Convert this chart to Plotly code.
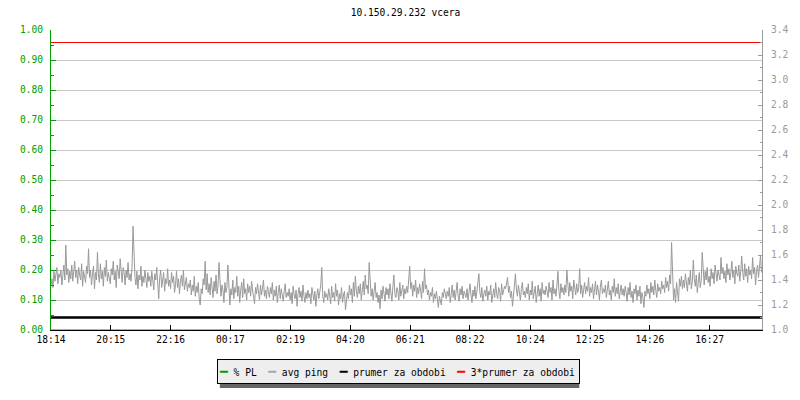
import numpy as np
import plotly.graph_objects as go

# ---- data ----
tick_minutes = [0, 121, 242, 363, 485, 606, 727, 848, 970, 1091, 1212, 1333]
tick_labels = ["18:14", "20:15", "22:16", "00:17", "02:19", "04:20",
               "06:21", "08:22", "10:24", "12:25", "14:26", "16:27"]
range_minutes = 1439
sample_step = 2  # minutes between avg ping samples

avg_ping = [
    1.36,1.41,1.34,1.47,1.39,1.44,1.50,1.37,1.45,1.42,1.48,1.36,1.46,1.52,1.40,1.68,1.44,1.49,1.38,1.47,
    1.41,1.52,1.39,1.46,1.55,1.42,1.48,1.37,1.50,1.44,1.40,1.53,1.35,1.47,1.43,1.38,1.51,1.45,1.65,1.42,
    1.48,1.36,1.45,1.51,1.33,1.46,1.40,1.62,1.44,1.38,1.53,1.41,1.47,1.35,1.50,1.43,1.56,1.39,1.46,1.42,
    1.37,1.49,1.44,1.55,1.40,1.47,1.34,1.52,1.45,1.41,1.57,1.43,1.38,1.50,1.46,1.36,1.48,1.42,1.54,1.40,
    1.45,1.39,1.50,1.83,1.56,1.42,1.36,1.47,1.33,1.44,1.40,1.51,1.35,1.43,1.38,1.48,1.41,1.34,1.46,1.39,
    1.43,1.35,1.47,1.38,1.32,1.45,1.40,1.50,1.36,1.25,1.42,1.48,1.34,1.39,1.46,1.31,1.41,1.37,1.49,1.35,
    1.40,1.33,1.46,1.38,1.43,1.30,1.36,1.47,1.34,1.41,1.29,1.39,1.44,1.35,1.48,1.32,1.38,1.42,1.31,1.37,
    1.34,1.40,1.28,1.36,1.31,1.43,1.27,1.35,1.30,1.38,1.25,1.20,1.33,1.29,1.41,1.36,1.55,1.32,1.45,1.30,
    1.37,1.28,1.42,1.33,1.26,1.39,1.31,1.44,1.29,1.35,1.54,1.40,1.27,1.36,1.32,1.22,1.38,1.30,1.34,1.52,
    1.36,1.20,1.33,1.28,1.40,1.25,1.34,1.30,1.43,1.27,1.35,1.22,1.32,1.38,1.26,1.41,1.29,1.33,1.24,1.37,
    1.30,1.35,1.27,1.39,1.32,1.26,1.21,1.34,1.29,1.37,1.31,1.24,1.36,1.28,1.33,1.40,1.27,1.32,1.25,1.35,
    1.31,1.26,1.34,1.29,1.38,1.24,1.32,1.27,1.35,1.22,1.30,1.36,1.25,1.33,1.28,1.23,1.31,1.37,1.26,1.30,
    1.27,1.33,1.24,1.30,1.21,1.35,1.28,1.25,1.32,1.19,1.29,1.34,1.26,1.31,1.23,1.36,1.27,1.22,1.30,1.25,
    1.32,1.26,1.29,1.21,1.34,1.27,1.24,1.31,1.19,1.28,1.33,1.25,1.30,1.36,1.50,1.27,1.22,1.31,1.26,1.29,
    1.24,1.33,1.28,1.21,1.35,1.26,1.30,1.23,1.37,1.27,1.32,1.20,1.29,1.25,1.34,1.22,1.28,1.31,1.16,1.26,
    1.30,1.25,1.36,1.28,1.33,1.22,1.38,1.27,1.43,1.31,1.26,1.35,1.29,1.37,1.24,1.32,1.39,1.28,1.44,1.33,
    1.36,1.29,1.54,1.40,1.27,1.33,1.24,1.31,1.38,1.26,1.30,1.22,1.28,1.17,1.32,1.25,1.35,1.29,1.23,1.34,
    1.28,1.33,1.25,1.37,1.30,1.23,1.35,1.44,1.29,1.26,1.34,1.31,1.24,1.38,1.27,1.32,1.36,1.25,1.33,1.29,
    1.35,1.30,1.41,1.51,1.33,1.38,1.27,1.36,1.31,1.40,1.26,1.34,1.29,1.37,1.32,1.25,1.39,1.30,1.49,1.33,
    1.36,1.28,1.32,1.24,1.30,1.27,1.34,1.22,1.29,1.25,1.31,1.23,1.18,1.27,1.24,1.20,1.30,1.26,1.33,1.28,
    1.25,1.31,1.27,1.34,1.22,1.29,1.36,1.26,1.32,1.24,1.30,1.38,1.27,1.23,1.33,1.28,1.35,1.25,1.31,1.29,
    1.26,1.33,1.24,1.30,1.37,1.28,1.22,1.32,1.27,1.35,1.25,1.31,1.39,1.45,1.30,1.26,1.34,1.23,1.29,1.32,
    1.27,1.35,1.24,1.31,1.28,1.36,1.22,1.30,1.33,1.26,1.38,1.29,1.25,1.34,1.31,1.23,1.37,1.28,1.32,1.35,
    1.33,1.37,1.42,1.30,1.35,1.26,1.31,1.19,1.28,1.34,1.45,1.32,1.27,1.36,1.29,1.24,1.33,1.38,1.28,1.31,
    1.26,1.34,1.29,1.37,1.24,1.32,1.28,1.39,1.25,1.31,1.35,1.22,1.30,1.36,1.27,1.33,1.23,1.38,1.29,1.32,
    1.28,1.35,1.31,1.26,1.38,1.30,1.34,1.24,1.40,1.29,1.33,1.27,1.36,1.47,1.31,1.25,1.37,1.30,1.34,1.28,
    1.36,1.30,1.48,1.33,1.27,1.38,1.31,1.35,1.25,1.40,1.32,1.28,1.37,1.30,1.34,1.49,1.29,1.36,1.26,1.33,
    1.38,1.29,1.35,1.31,1.42,1.27,1.34,1.30,1.37,1.25,1.33,1.39,1.28,1.36,1.31,1.24,1.35,1.40,1.29,1.33,
    1.30,1.36,1.26,1.33,1.39,1.28,1.32,1.24,1.35,1.30,1.41,1.27,1.34,1.29,1.37,1.25,1.31,1.36,1.28,1.33,
    1.27,1.35,1.30,1.23,1.34,1.28,1.38,1.26,1.31,1.22,1.33,1.29,1.36,1.24,1.32,1.27,1.35,1.21,1.30,1.26,
    1.18,1.31,1.27,1.36,1.29,1.33,1.25,1.38,1.30,1.35,1.28,1.40,1.32,1.26,1.37,1.31,1.34,1.29,1.39,1.33,
    1.36,1.30,1.42,1.34,1.39,1.31,1.44,1.37,1.70,1.48,1.24,1.33,1.22,1.38,1.30,1.23,1.41,1.35,1.43,1.33,
    1.40,1.34,1.45,1.37,1.31,1.42,1.36,1.48,1.33,1.39,1.56,1.41,1.35,1.44,1.30,1.38,1.46,1.34,1.40,1.62,
    1.44,1.36,1.47,1.40,1.50,1.38,1.43,1.35,1.49,1.41,1.46,1.37,1.52,1.42,1.39,1.48,1.44,1.40,1.58,1.45,
    1.50,1.41,1.47,1.38,1.53,1.44,1.49,1.40,1.46,1.55,1.42,1.48,1.37,1.51,1.45,1.43,1.52,1.39,1.47,1.59,
    1.46,1.40,1.53,1.43,1.49,1.38,1.51,1.44,1.48,1.41,1.58,1.45,1.50,1.36,1.47,1.52,1.42,1.49,1.60,1.46,
]
packet_loss = [0.0, 0.0]          # % PL (left axis), zero all day
mean_ping = 1.1                   # prumer za obdobi
triple_mean_ping = 3.3            # 3*prumer za obdobi

# ---- style ----
FONT = "DejaVu Sans Mono"
FS = 9.6
GREEN = "#00a000"
GRAY = "#999999"

t = np.arange(len(avg_ping)) * sample_step
span = [0, range_minutes]

fig = go.Figure()
fig.add_trace(go.Scatter(x=span, y=packet_loss, mode="lines",
                         line=dict(color=GREEN, width=1), yaxis="y",
                         name="% PL", showlegend=False, hoverinfo="skip"))
fig.add_trace(go.Scatter(x=t, y=avg_ping, mode="lines",
                         line=dict(color="#999999", width=1), yaxis="y2",
                         name="avg ping", showlegend=False))
fig.add_trace(go.Scatter(x=span, y=[mean_ping, mean_ping], mode="lines",
                         line=dict(color="black", width=2.5), yaxis="y2",
                         name="prumer za obdobi", showlegend=False))
fig.add_trace(go.Scatter(x=span, y=[triple_mean_ping, triple_mean_ping], mode="lines",
                         line=dict(color="#ff0000", width=1.2), yaxis="y2",
                         name="3*prumer za obdobi", showlegend=False))

# page is offset by the 8px body margin of the html page
OFF = 8
PAGE_W, PAGE_H = 800, 400
PL_X0, PL_X1, PL_Y0, PL_Y1 = 50, 770, 30, 330   # plot area in page pixels
W, H = PAGE_W - OFF, PAGE_H - OFF
L, T = PL_X0 - OFF, PL_Y0 - OFF
R, B = PAGE_W - PL_X1, PAGE_H - PL_Y1
pw, ph = PL_X1 - PL_X0, PL_Y1 - PL_Y0

def px(xp):
    return (xp - PL_X0) / pw

def py(yp):
    return (PL_Y1 - yp) / ph

def mk(color):
    return f"<span style='color:{color};font-size:13px'>━</span>"

legend_text = (f"{mk(GREEN)}&nbsp;% PL&nbsp;&nbsp;"
               f"{mk('#aaaaaa')}&nbsp;avg ping&nbsp;&nbsp;"
               f"{mk('black')}&nbsp;prumer za obdobi&nbsp;&nbsp;"
               f"{mk('#ff0000')}&nbsp;3*prumer za obdobi")

fig.update_layout(
    width=W, height=H,
    margin=dict(l=L, r=R, t=T, b=B),
    paper_bgcolor="white", plot_bgcolor="white",
    font=dict(family=FONT, size=FS, color="black"),
    title=dict(text="10.150.29.232 vcera", xref="paper", x=px(409), xanchor="center",
               y=1 - (13 - OFF) / H, yanchor="middle",
               font=dict(family=FONT, size=FS, color="black")),
    showlegend=False,
    xaxis=dict(range=span, tickmode="array", tickvals=tick_minutes, ticktext=tick_labels,
               ticks="inside", ticklen=5, tickcolor="black", tickwidth=1,
               showline=True, linecolor="black", linewidth=1,
               showgrid=False, zeroline=False,
               tickfont=dict(family=FONT, size=FS, color="black")),
    yaxis=dict(range=[0, 1], tickmode="linear", tick0=0, dtick=0.1, tickformat=".2f",
               ticks="inside", ticklen=5, tickcolor=GREEN, tickwidth=1,
               showline=True, linecolor=GREEN, linewidth=1,
               showgrid=True, gridcolor="#c8c8c8", gridwidth=1, zeroline=False,
               minor=dict(dtick=0.05, ticks="inside", ticklen=3, tickcolor=GREEN, showgrid=False),
               tickfont=dict(family=FONT, size=FS, color=GREEN), ticklabelstandoff=5),
    yaxis2=dict(range=[1.0, 3.4], overlaying="y", side="right", anchor="x",
                tickmode="linear", tick0=1.0, dtick=0.2, tickformat=".1f",
                ticks="inside", ticklen=4, tickcolor=GRAY, tickwidth=1,
                showline=True, linecolor=GRAY, linewidth=1,
                showgrid=False, zeroline=False,
                minor=dict(dtick=0.1, ticks="inside", ticklen=2, tickcolor=GRAY, showgrid=False),
                tickfont=dict(family=FONT, size=FS, color=GRAY), ticklabelstandoff=6),
    shapes=[dict(type="rect", xref="paper", yref="paper", layer="below",
                 x0=px(221), x1=px(585), y0=py(362), y1=py(388),
                 fillcolor="#666666", line=dict(width=0))],
    annotations=[dict(text=legend_text, xref="paper", yref="paper",
                      x=px(218), y=py(359), xanchor="left", yanchor="top",
                      showarrow=False, align="left", width=359, height=21,
                      bgcolor="#eeeeee", bordercolor="black", borderwidth=1, borderpad=1,
                      font=dict(family=FONT, size=FS, color="black"))],
)

fig.write_html("out.html")
